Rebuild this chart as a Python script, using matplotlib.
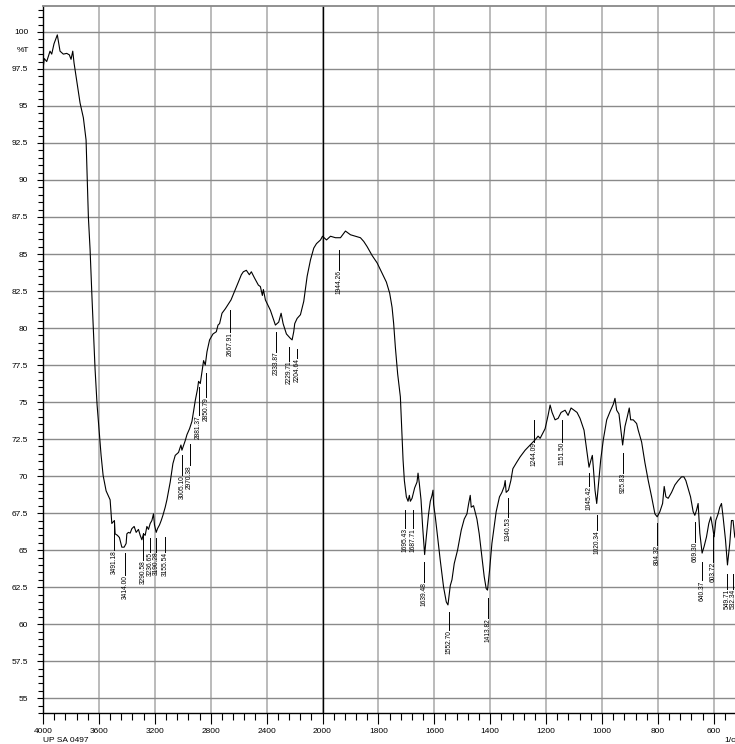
import numpy as np
import matplotlib
matplotlib.use("Agg")
import matplotlib.pyplot as plt
from matplotlib.ticker import FixedLocator, FuncFormatter

plt.rcParams['font.family'] = ['Liberation Sans', 'DejaVu Sans']

# spectrum (wavenumber 1/cm, %T)
wn = [4000, 3990.7, 3973.5, 3949.8, 3937.6, 3921.2, 3897.5, 3878.1, 3854.5, 3830.1,
      3811.5, 3799.3, 3787.1, 3777.8, 3734.8, 3711.1, 3691.8, 3675.3, 3663.1, 3648.8,
      3627.3, 3612.9, 3598.6, 3584.3, 3569.9, 3548.4, 3519.7, 3507.6, 3488.9, 3483.9,
      3467.4, 3453.1, 3435.9, 3419.4, 3405.1, 3400.0, 3388.6, 3376.4, 3364.2, 3347.7,
      3333.4, 3316.9, 3304.7, 3292.5, 3281.0, 3268.9, 3256.7, 3245.2, 3233.0, 3220.8,
      3209.4, 3202.2, 3190.0, 3180.7, 3166.4, 3154.2, 3142.0, 3125.5, 3113.3, 3089.7,
      3070.3, 3053.8, 3030.2, 3013.0, 3005.8, 2982.1, 2969.9, 2951.3, 2934.1, 2910.5,
      2894.0, 2886.8, 2874.6, 2862.4, 2850.9, 2838.8, 2826.6, 2808.0, 2783.6, 2759.9,
      2747.7, 2736.3, 2719.1, 2695.4, 2671.8, 2654.6, 2623.7, 2602.2, 2580.7, 2566.4,
      2544.9, 2523.4, 2509.1, 2487.6, 2458.9, 2444.5, 2430.2, 2423.0, 2408.7, 2372.9,
      2337.0, 2313.4, 2296.2, 2281.9, 2258.2, 2229.6, 2217.4, 2205.9, 2198.7, 2181.5,
      2157.8, 2134.2, 2109.8, 2086.1, 2062.5, 2043.1, 2014.3,
      2000.0, 1985.7, 1971.4, 1953.6, 1935.7, 1917.9, 1900.0, 1882.1, 1864.3, 1852.5,
      1840.4, 1822.5, 1804.6, 1786.8, 1771.4, 1759.6, 1751.1, 1745.4, 1739.3, 1731.1,
      1721.4, 1711.8, 1707.1, 1700.0, 1693.9, 1689.3, 1685.7, 1679.6, 1670.4, 1661.8,
      1658.2, 1653.6, 1647.5, 1641.8, 1634.6, 1628.6, 1620.4, 1614.3, 1608.2, 1604.6,
      1602.5, 1596.4, 1588.2, 1578.6, 1566.8, 1557.1, 1551.1, 1542.9, 1536.8, 1528.6,
      1516.8, 1503.6, 1492.9, 1483.2, 1477.5, 1471.4, 1467.9, 1459.6, 1447.5, 1439.3,
      1429.6, 1421.4, 1414.3, 1409.6, 1402.5, 1393.9, 1385.7, 1378.6, 1366.8, 1358.2,
      1350.0, 1346.4, 1342.9, 1334.6, 1326.1, 1318.9, 1304.6, 1292.9, 1275.0, 1257.1,
      1239.3, 1228.6, 1221.4, 1203.6, 1192.9, 1185.7, 1178.6, 1167.9, 1157.1, 1146.4,
      1132.1, 1121.4, 1110.7, 1100.0, 1089.3, 1078.6, 1064.3, 1054.6, 1046.4, 1039.3,
      1034.6, 1031.1, 1025.0, 1018.9, 1013.2, 1004.6, 995.4, 983.2, 971.4, 959.6,
      953.6, 947.5, 939.3, 933.2, 926.1, 917.9, 909.6, 902.5, 897.5, 888.2,
      876.1, 870.4, 858.2, 846.4, 834.6, 822.5, 810.7, 802.5, 792.9, 783.2,
      777.5, 771.4, 763.2, 751.1, 739.3, 727.5, 715.4, 707.1, 700.0, 691.8,
      683.2, 673.9, 667.9, 661.8, 656.1, 650.0, 641.8, 634.6, 626.1, 617.9,
      610.7, 604.6, 598.9, 592.9, 584.6, 578.6, 572.5, 566.8, 558.2, 551.1,
      542.9, 536.8, 531.1, 525.0, 515.0]
trans = [97.5, 98.2, 98.0, 98.7, 98.5, 99.2, 99.8, 98.7, 98.5, 98.55,
         98.45, 98.15, 98.7, 97.9, 95.2, 94.2, 92.7, 87.5, 85.3, 81.9,
         77.2, 74.8, 73.1, 71.4, 70.05, 69.0, 68.4, 66.8, 67.0, 66.1,
         66.0, 65.85, 65.2, 65.2, 65.45, 66.1, 66.2, 66.15, 66.45, 66.6,
         66.2, 66.4, 66.0, 65.7, 66.1, 66.0, 66.6, 66.4, 66.8, 67.0,
         67.45, 66.7, 66.2, 66.45, 66.7, 67.0, 67.35, 67.9, 68.4, 69.6,
         70.85, 71.4, 71.6, 72.1, 71.75, 72.4, 72.8, 73.2, 73.7, 75.1,
         75.9, 76.4, 76.25, 77.05, 77.8, 77.5, 78.4, 79.2, 79.6, 79.75,
         80.2, 80.3, 81.0, 81.3, 81.65, 81.9, 82.6, 83.1, 83.6, 83.8,
         83.9, 83.6, 83.8, 83.4, 82.9, 82.8, 82.2, 82.6, 81.9, 81.2,
         80.2, 80.4, 81.0, 80.3, 79.6, 79.3, 79.2, 79.75, 80.3, 80.65,
         80.9, 81.8, 83.5, 84.6, 85.4, 85.7, 85.95,
         86.2, 85.95, 86.2, 86.1, 86.1, 86.55, 86.3, 86.2, 86.1, 85.85,
         85.5, 84.9, 84.4, 83.7, 83.1, 82.35, 81.4, 80.3, 78.7, 76.9,
         75.35, 71.1, 69.7, 68.6, 68.3, 68.7, 68.3, 68.5, 69.2, 69.6,
         70.2, 69.5, 68.4, 66.6, 64.7, 65.9, 67.45, 68.3, 68.7, 69.05,
         68.1, 67.25, 65.9, 64.3, 62.5, 61.5, 61.3, 62.6, 63.0, 64.1,
         65.0, 66.35, 67.1, 67.45, 68.1, 68.7, 67.9, 68.0, 67.1, 66.1,
         64.5, 63.2, 62.4, 62.3, 63.6, 65.45, 66.6, 67.6, 68.6, 68.9,
         69.3, 69.7, 68.9, 69.05, 69.7, 70.5, 70.95, 71.3, 71.75, 72.1,
         72.45, 72.7, 72.55, 73.2, 74.1, 74.8, 74.3, 73.8, 73.9, 74.3,
         74.45, 74.1, 74.6, 74.45, 74.3, 73.9, 73.1, 71.75, 70.6, 71.1,
         71.4, 70.6, 69.05, 68.15, 69.3, 71.1, 72.45, 73.8, 74.35, 74.85,
         75.25, 74.45, 74.2, 73.2, 72.1, 73.35, 74.0, 74.6, 73.8, 73.8,
         73.55, 73.1, 72.3, 70.9, 69.7, 68.6, 67.45, 67.25, 67.6, 68.15,
         69.3, 68.6, 68.5, 68.9, 69.4, 69.7, 69.95, 69.95, 69.7, 69.15,
         68.6, 67.6, 67.35, 67.7, 68.15, 66.15, 64.8, 65.25, 65.9, 66.8,
         67.25, 66.6, 65.9, 67.0, 67.45, 67.9, 68.15, 67.25, 65.7, 64.0,
         65.45, 67.0, 67.0, 65.9, 65.5]

# peak picking labels: text, marker position, top of marker line, top of text
peak_text = ["3491.18", "3414.00", "3290.58", "3236.65", "3190.28", "3155.54",
             "3005.10", "2970.38", "2881.37", "2850.79", "2667.91", "2333.87",
             "2229.71", "2204.64", "1944.26", "1695.43", "1687.71", "1639.48",
             "1552.70", "1413.82", "1340.53", "1244.09", "1151.50", "1045.42",
             "1020.34", "925.83", "804.32", "669.30", "640.37", "603.72",
             "549.71", "532.34"]
peak_x = [3491, 3412, 3285, 3233, 3190, 3128, 3006, 2951, 2887, 2832, 2660, 2330,
          2241, 2180, 1942, 1704, 1677, 1636, 1549, 1408, 1335, 1243, 1144, 1046,
          1019, 924, 802, 668, 641, 602, 551, 531]
line_top = [67.0, 64.8, 66.15, 65.8, 65.8, 65.9, 71.4, 72.2, 76.0, 76.95, 81.2, 79.75,
            78.7, 78.6, 85.3, 67.7, 67.7, 64.2, 60.85, 61.75, 68.5, 73.8, 73.8, 70.2,
            67.35, 71.55, 66.8, 66.9, 64.2, 66.0, 63.4, 63.4]
text_top = [65.0, 63.3, 64.3, 64.9, 64.9, 64.9, 70.05, 70.75, 74.1, 75.35, 79.75, 78.4,
            77.8, 77.95, 83.9, 66.5, 66.5, 62.85, 59.6, 60.4, 67.25, 72.3, 72.3, 69.3,
            66.35, 70.2, 65.35, 65.55, 62.95, 64.2, 62.4, 62.4]

major_x = [4000, 3600, 3200, 2800, 2400, 2000, 1800, 1600, 1400, 1200, 1000, 800, 600]


def fwd(w):
    w = np.asarray(w, dtype=float)
    return np.where(w <= 2000, w / 200.0, 10 + (w - 2000) / 400.0)


def inv(u):
    u = np.asarray(u, dtype=float)
    return np.where(u <= 10, u * 200.0, 2000 + (u - 10) * 400.0)


fig = plt.figure(figsize=(7.35, 7.44), dpi=100)
ax = fig.add_axes([43 / 735, 31 / 744, 726.7 / 735, 707 / 744])
ax.set_xscale('function', functions=(fwd, inv))
ax.set_xlim(4000, 400)
ax.set_ylim(54, 101.75)

minor_x = list(np.arange(4000, 2000, -80)) + list(np.arange(2000, 399, -40))
minor_x = [v for v in minor_x if v not in major_x]
ax.xaxis.set_major_locator(FixedLocator(major_x))
ax.xaxis.set_minor_locator(FixedLocator(minor_x))
ax.xaxis.set_major_formatter(FuncFormatter(lambda v, p: '%d' % v))
ax.xaxis.set_minor_formatter(FuncFormatter(lambda v, p: ''))
ax.yaxis.set_major_locator(FixedLocator(np.arange(55, 100.1, 2.5)))
ax.yaxis.set_minor_locator(FixedLocator(np.arange(54, 101.8, 0.5)))
ax.yaxis.set_major_formatter(FuncFormatter(lambda v, p: '%g' % v))

ax.tick_params(axis='x', which='major', direction='out', length=8, width=0.8,
               labelsize=6, pad=2.5)
ax.tick_params(axis='x', which='minor', direction='out', length=5, width=0.8)
ax.tick_params(axis='y', which='major', direction='out', length=4.5, width=0.8,
               labelsize=6, pad=6)
ax.tick_params(axis='y', which='minor', direction='out', length=3.3, width=0.8)

ax.xaxis.grid(True, which='major', color='#a8a8a8', linewidth=1.1)
ax.yaxis.grid(True, which='major', color='#8a8a8a', linewidth=1.0)
ax.axvline(2000, color='black', linewidth=1.0, zorder=2)
ax.spines['top'].set_color('#888888')
ax.spines['top'].set_linewidth(1.3)
ax.spines['right'].set_visible(False)
ax.spines['left'].set_linewidth(1.0)
ax.spines['bottom'].set_linewidth(1.0)

ax.plot(wn, trans, color='black', linewidth=0.8, zorder=3)

for txt, x, y1, y2 in zip(peak_text, peak_x, line_top, text_top):
    ax.plot([x, x], [y1, y2], color='black', linewidth=0.7, zorder=3)
    ax.text(x, y2, txt, rotation=90, ha='center', va='top', fontsize=4.8, zorder=4)

fig.text(23 / 735, 1 - 50 / 744, '%T', ha='center', va='center', fontsize=6)
fig.text(43 / 735, 1 - 741 / 744, 'UP SA 0497', ha='left', va='center', fontsize=6)
fig.text(724 / 735, 1 - 740 / 744, '1/cm', ha='left', va='center', fontsize=6)

fig.savefig('out.png', dpi=100)
